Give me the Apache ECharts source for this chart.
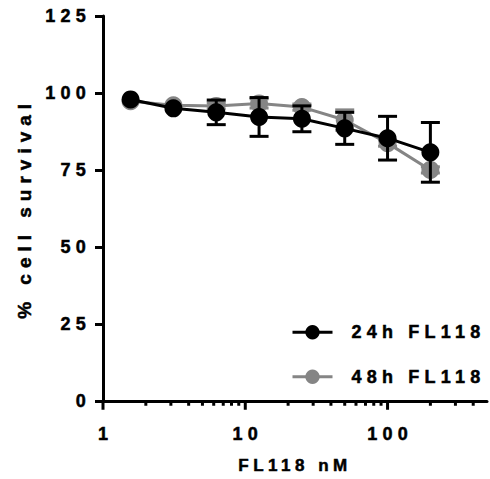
<!DOCTYPE html>
<html>
<head>
<meta charset="utf-8">
<script src="https://cdn.jsdelivr.net/npm/echarts@6/dist/echarts.min.js"></script>
<style>
html,body{margin:0;padding:0;background:#fff;}
#chart{width:490px;height:479px;}
/* the original uses widely tracked bold text */
#chart text{letter-spacing:5.2px;}
</style>
</head>
<body>
<div id="chart"></div>
<script>
// FL118 dose response, % cell survival
var conc = [1.5625, 3.125, 6.25, 12.5, 25, 50, 100, 200];
var surv24 = [97.9, 95.0, 93.7, 92.2, 91.6, 88.5, 85.3, 80.7];
var sd24 = [0, 0, 4.0, 6.3, 4.2, 5.2, 7.1, 9.7];
var surv48 = [97.3, 96.0, 95.8, 96.6, 95.4, 91.2, 83.7, 75.0];
var sd48 = [0, 0, 1.0, 1.5, 1.0, 3.3, 1.0, 1.0];
var majorTicks = [1, 10, 100];
var minorTicks = [2, 3, 4, 5, 6, 7, 8, 9, 20, 30, 40, 50, 60, 70, 80, 90, 200, 300, 400];

var font = 'Liberation Sans';
var xTitle = 'FL118 nM';
var yTitle = '% cell survival';

function pairs(xs, ys) {
    var out = [];
    for (var i = 0; i < xs.length; i++) out.push([xs[i], ys[i]]);
    return out;
}
function errData(xs, ys, sd) {
    var out = [];
    for (var i = 0; i < xs.length; i++) {
        if (sd[i] > 0) out.push([xs[i], ys[i] - sd[i], ys[i] + sd[i]]);
    }
    return out;
}
function errRender(color) {
    return function (params, api) {
        var lo = api.coord([api.value(0), api.value(1)]);
        var hi = api.coord([api.value(0), api.value(2)]);
        var w = 9.5;
        var st = {stroke: color, lineWidth: 3};
        return {
            type: 'group',
            children: [
                {type: 'line', shape: {x1: lo[0], y1: lo[1], x2: hi[0], y2: hi[1]}, style: st},
                {type: 'line', shape: {x1: lo[0] - w, y1: lo[1], x2: lo[0] + w, y2: lo[1]}, style: st},
                {type: 'line', shape: {x1: hi[0] - w, y1: hi[1], x2: hi[0] + w, y2: hi[1]}, style: st}
            ]
        };
    };
}
function tickRender(len) {
    return function (params, api) {
        var p = api.coord([api.value(0), 0]);
        return {type: 'line', shape: {x1: p[0], y1: p[1], x2: p[0], y2: p[1] + len},
            style: {stroke: '#000', lineWidth: 3}};
    };
}

// bold text, slightly heavier like the original
function txt(size) {
    return {fontFamily: font, fontWeight: 'bold', fontSize: size, color: '#000',
        textBorderColor: '#000', textBorderWidth: 0.5};
}

var chart = echarts.init(document.getElementById('chart'), null, {renderer: 'svg'});
var option = {
    animation: false,
    textStyle: {fontFamily: font},
    grid: {left: 103, right: 0, top: 16, bottom: 78},
    legend: {
        orient: 'vertical',
        left: 286,
        top: 318,
        itemWidth: 40,
        itemHeight: 18,
        itemGap: 26,
        lineStyle: {width: 3},
        textStyle: Object.assign(txt(18), {padding: [0, 0, 0, 14]}),
        data: ['24h FL118', '48h FL118']
    },
    xAxis: {
        type: 'log',
        logBase: 10,
        min: 1,
        max: 500,
        name: xTitle,
        nameLocation: 'middle',
        nameGap: 56,
        nameTextStyle: txt(17),
        axisLine: {onZero: false, lineStyle: {color: '#000', width: 3}},
        axisTick: {show: false},
        axisLabel: Object.assign(txt(18), {margin: 24, padding: [0, 0, 0, 5],
            formatter: function (v) { return v > 400 ? '' : String(v); }}),
        splitLine: {show: false}
    },
    yAxis: {
        type: 'value',
        min: 0,
        max: 125,
        interval: 25,
        name: yTitle,
        nameLocation: 'middle',
        nameGap: 69,
        nameTextStyle: txt(19),
        axisLine: {show: true, lineStyle: {color: '#000', width: 3}},
        axisTick: {show: true, length: 8, lineStyle: {color: '#000', width: 3}},
        axisLabel: Object.assign(txt(18), {margin: 12}),
        splitLine: {show: false}
    },
    series: [
        {
            name: 'major',
            type: 'custom',
            silent: true,
            data: majorTicks.map(function (v) { return [v, 0]; }),
            renderItem: tickRender(9),
            z: 1
        },
        {
            name: 'minor',
            type: 'custom',
            silent: true,
            data: minorTicks.map(function (v) { return [v, 0]; }),
            renderItem: tickRender(5),
            z: 1
        },
        {
            name: '48h FL118',
            type: 'line',
            data: pairs(conc, surv48),
            symbol: 'circle',
            symbolSize: 18,
            color: '#858585',
            lineStyle: {color: '#858585', width: 3},
            itemStyle: {color: '#858585'},
            z: 2
        },
        {
            name: '48h err',
            type: 'custom',
            data: errData(conc, surv48, sd48),
            renderItem: errRender('#858585'),
            z: 2
        },
        {
            name: '24h FL118',
            type: 'line',
            data: pairs(conc, surv24),
            symbol: 'circle',
            symbolSize: 18,
            color: '#000',
            lineStyle: {color: '#000', width: 3},
            itemStyle: {color: '#000'},
            z: 3
        },
        {
            name: '24h err',
            type: 'custom',
            data: errData(conc, surv24, sd24),
            renderItem: errRender('#000'),
            z: 4
        }
    ]
};
chart.setOption(option);

// axis titles are tracked a little differently from the rest
var texts = document.querySelectorAll('#chart text');
for (var i = 0; i < texts.length; i++) {
    if (texts[i].textContent === yTitle) texts[i].style.letterSpacing = '6px';
    if (texts[i].textContent === xTitle) texts[i].style.letterSpacing = '4.5px';
}
</script>
</body>
</html>
